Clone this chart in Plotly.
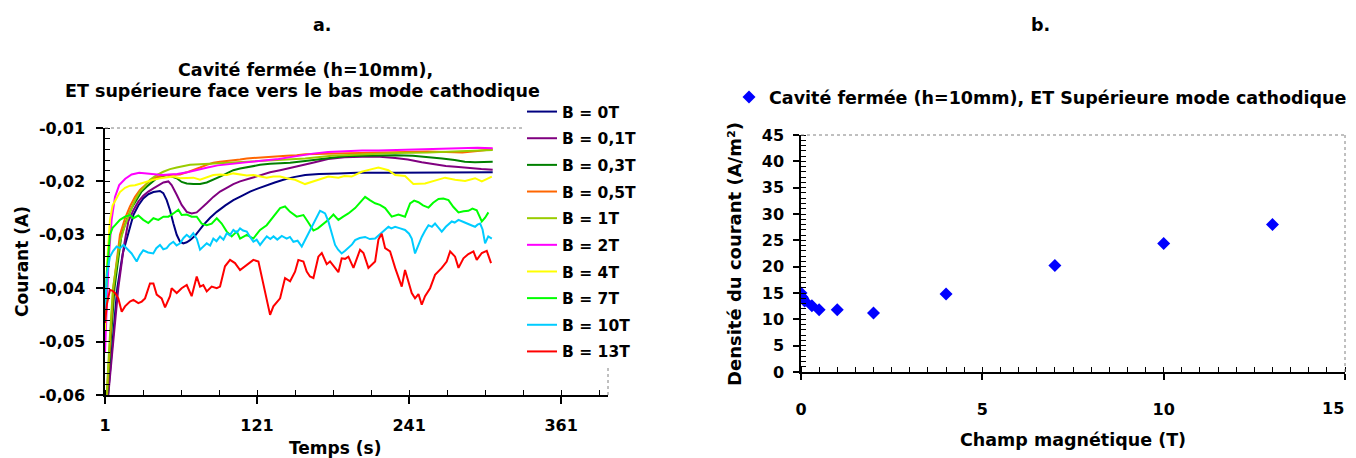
import plotly.graph_objects as go

# page is 1356 x 458; the browser's default 8 px body margin places the figure at (8, 8)
PAGE_W, PAGE_H, OFF = 1356, 458, 8
W, H = PAGE_W - OFF, PAGE_H - OFF
FONT = "DejaVu Sans, Liberation Sans, Arial, sans-serif"

# ---------------- Panel a : current vs time ----------------
names_a = ["B = 0T", "B = 0,1T", "B = 0,3T", "B = 0,5T", "B = 1T",
           "B = 2T", "B = 4T", "B = 7T", "B = 10T", "B = 13T"]
colors_a = ["#000080", "#800080", "#008000", "#FF6600", "#99CC00",
            "#FF00FF", "#FFFF00", "#00FF00", "#00CCFF", "#FF0000"]

t_0T = [1, 3.4, 7, 10.7, 15, 19, 23.4, 27.3, 31.2, 35.2, 39.2, 44.4, 47, 49.7, 52.3, 55, 57.6, 60.2, 62.8, 65.5,
        68.1, 72, 78.6, 84, 89.2, 96, 102.3, 109, 115.5, 122, 128.6, 135, 141.8, 150, 159, 170, 185, 200, 230, 260, 307]
i_0T = [-0.080, -0.060, -0.050, -0.040, -0.0335, -0.0300, -0.0263, -0.0245, -0.0232, -0.0224, -0.0220, -0.0218, -0.0222,
        -0.0235, -0.0254, -0.0279, -0.0300, -0.0313, -0.0316, -0.0314, -0.0310, -0.0302, -0.0282, -0.0268, -0.0257,
        -0.0245, -0.0235, -0.0227, -0.0219, -0.0213, -0.0207, -0.0202, -0.0197, -0.0192, -0.0188, -0.0186, -0.0185,
        -0.0184, -0.0184, -0.0184, -0.0183]

t_01T = [1, 3.6, 7.5, 11.5, 16, 19.4, 23.4, 27.3, 31.2, 35.2, 39.2, 43.1, 47.1, 51, 53.6, 57.6, 61.5, 65.5, 69.4, 73.4,
         77.3, 81.3, 86.5, 91.8, 97.1, 102.3, 107.6, 115.5, 123.4, 131.3, 139.2, 147.1, 155, 165, 177, 190, 204, 218,
         230, 240, 251, 262, 270, 280, 288, 298, 307]
i_01T = [-0.080, -0.060, -0.050, -0.040, -0.0320, -0.0275, -0.0254, -0.0238, -0.0227, -0.0219, -0.0213, -0.0207,
         -0.0202, -0.0200, -0.0207, -0.0225, -0.0244, -0.0257, -0.0260, -0.0258, -0.0250, -0.0241, -0.0229, -0.0219,
         -0.0212, -0.0205, -0.0200, -0.0194, -0.0188, -0.0183, -0.0179, -0.0175, -0.0171, -0.0165, -0.0158, -0.0155,
         -0.0154, -0.0154, -0.0156, -0.0159, -0.0164, -0.0168, -0.0171, -0.0173, -0.0175, -0.0177, -0.0178]

t_03T = [1, 2.8, 5.5, 8.5, 14, 18.1, 22, 26, 29.9, 33.9, 37.8, 41.8, 45.7, 49.7, 53.6, 57.6, 61.5, 65.5, 70.7, 76,
         81.3, 86.5, 91.8, 97.1, 102.3, 107.6, 115.5, 123.4, 131.3, 139.2, 147.1, 159, 177, 190, 204, 218, 230, 244,
         256, 267, 277, 285, 293, 300, 307]
i_03T = [-0.080, -0.060, -0.050, -0.040, -0.0300, -0.0272, -0.0250, -0.0233, -0.0219, -0.0210, -0.0202, -0.0194,
         -0.0191, -0.0188, -0.0191, -0.0194, -0.0201, -0.0204, -0.0205, -0.0205, -0.0202, -0.0197, -0.0191, -0.0185,
         -0.0179, -0.0176, -0.0172, -0.0169, -0.0167, -0.0166, -0.0165, -0.0162, -0.0156, -0.0153, -0.0152, -0.0151,
         -0.0151, -0.0152, -0.0154, -0.0157, -0.0160, -0.0163, -0.0164, -0.0164, -0.0163]

t_05T = [1, 2.5, 5, 7.6, 12.8, 16.8, 20.7, 24.7, 28.6, 32.6, 36.5, 40.5, 44.4, 49.7, 55, 60.2, 65.5, 70.7, 76, 81.3,
         86.5, 91.8, 97.1, 102.3, 107.6, 112.9, 118.1, 123.4, 128.6, 136.5, 144.4, 152.3, 159, 175, 195, 215, 235,
         256, 270, 283, 295, 307]
i_05T = [-0.080, -0.060, -0.050, -0.040, -0.0300, -0.0269, -0.0247, -0.0229, -0.0216, -0.0207, -0.0199, -0.0193,
         -0.0190, -0.0188, -0.0188, -0.0187, -0.0183, -0.0179, -0.0174, -0.0169, -0.0165, -0.0163, -0.0162, -0.0160,
         -0.0159, -0.0157, -0.0156, -0.0155, -0.0154, -0.0153, -0.0152, -0.0151, -0.0149, -0.0148, -0.0147, -0.0146,
         -0.0145, -0.0144, -0.0145, -0.0146, -0.0143, -0.0140]

t_1T = [1, 2.3, 4.6, 7.3, 12.8, 16.8, 20.7, 24.7, 28.6, 32.6, 36.5, 41.8, 47, 52.3, 57.6, 62.8, 68.1, 76, 83.9, 91.8,
        99.7, 107.6, 115.5, 123.4, 131.3, 139.2, 147.1, 159, 180, 204, 230, 256, 280, 307]
i_1T = [-0.080, -0.060, -0.050, -0.040, -0.0313, -0.0282, -0.0257, -0.0235, -0.0219, -0.0209, -0.0197, -0.0188,
        -0.0182, -0.0177, -0.0174, -0.0171, -0.0169, -0.0168, -0.0167, -0.0165, -0.0164, -0.0164, -0.0163, -0.0162,
        -0.0161, -0.0159, -0.0158, -0.0157, -0.0152, -0.0149, -0.0147, -0.0146, -0.0144, -0.0141]

t_2T = [1, 2.5, 3.8, 6.2, 8.9, 12.2, 17, 22, 28, 34, 40, 46, 52, 58, 66, 74, 82, 90, 98, 106, 114, 122, 130, 138,
        146, 154, 165, 177, 190, 204, 217, 230, 243, 256, 270, 283, 295, 307]
i_2T = [-0.052, -0.042, -0.035, -0.0272, -0.0229, -0.0207, -0.0195, -0.0187, -0.0184, -0.0185, -0.0187, -0.0188,
        -0.0187, -0.0186, -0.0183, -0.0178, -0.0174, -0.0170, -0.0168, -0.0166, -0.0165, -0.0163, -0.0161, -0.0158,
        -0.0155, -0.0152, -0.0148, -0.0145, -0.0143, -0.0142, -0.0142, -0.0141, -0.0140, -0.0139, -0.0138, -0.0137,
        -0.0137, -0.0138]

t_4T = [1, 2.5, 4.9, 7, 10, 12.8, 16.8, 20.7, 24.7, 28.6, 33.9, 39.2, 44.4, 49.7, 55, 60.2, 65.5, 70.7, 76, 81.3,
        86.5, 91.8, 97.1, 102.3, 107.6, 112.9, 118.1, 123.4, 128.6, 133.9, 139.2, 144.4, 151, 158.9, 166.8, 172,
        177.3, 185.2, 190, 195.7, 203.6, 210, 216.8, 224.7, 230, 237.8, 244.4, 253.6, 261.5, 269.4, 277.3, 285.2,
        293.1, 298.4, 306.3]
i_4T = [-0.0478, -0.036, -0.0272, -0.0245, -0.0232, -0.0220, -0.0212, -0.0208, -0.0207, -0.0204, -0.0200, -0.0197,
        -0.0194, -0.0193, -0.0191, -0.0194, -0.0194, -0.0193, -0.0197, -0.0193, -0.0188, -0.0187, -0.0188, -0.0185,
        -0.0187, -0.0189, -0.0188, -0.0191, -0.0193, -0.0191, -0.0191, -0.0194, -0.0197, -0.0205, -0.0199, -0.0195,
        -0.0191, -0.0193, -0.0190, -0.0191, -0.0182, -0.0178, -0.0174, -0.0179, -0.0188, -0.0190, -0.0205, -0.0204,
        -0.0199, -0.0193, -0.0197, -0.0199, -0.0194, -0.0200, -0.0191]

t_7T = [1, 2.5, 4.9, 7, 9, 12.8, 16.8, 20.7, 23.4, 27.3, 31.2, 35.2, 39.2, 43.1, 47.1, 51, 55, 58.9, 61.5, 65.5,
        69.4, 73.4, 77.3, 81.3, 85.2, 89.2, 93.1, 97.1, 101, 105, 107.6, 112.9, 118.1, 123.4, 128.6, 133.9, 139.2,
        143.1, 147.1, 152.3, 157.6, 161, 165.5, 169, 172.1, 177.3, 181.3, 185.2, 189, 193.1, 198.4, 202, 206.3, 210,
        214.2, 218, 222.1, 227.3, 232.6, 237.8, 241.8, 245, 248.4, 252, 256.3, 260, 264.2, 268, 272.1, 276, 280,
        284, 287.8, 291, 294.4, 298.4, 301, 303.6]
i_7T = [-0.0460, -0.0370, -0.0300, -0.0287, -0.0282, -0.0272, -0.0266, -0.0263, -0.0269, -0.0264, -0.0272, -0.0278,
        -0.0269, -0.0272, -0.0266, -0.0266, -0.0260, -0.0253, -0.0263, -0.0262, -0.0266, -0.0266, -0.0279, -0.0282,
        -0.0279, -0.0269, -0.0279, -0.0294, -0.0303, -0.0294, -0.0307, -0.0300, -0.0307, -0.0291, -0.0282, -0.0266,
        -0.0250, -0.0247, -0.0257, -0.0266, -0.0263, -0.0275, -0.0292, -0.0288, -0.0282, -0.0272, -0.0262, -0.0272,
        -0.0266, -0.0260, -0.0250, -0.0240, -0.0229, -0.0235, -0.0241, -0.0244, -0.0250, -0.0266, -0.0262, -0.0266,
        -0.0241, -0.0236, -0.0239, -0.0245, -0.0249, -0.0240, -0.0233, -0.0232, -0.0235, -0.0248, -0.0258, -0.0256,
        -0.0255, -0.0251, -0.0254, -0.0275, -0.0268, -0.0258]

t_10T = [1, 2.5, 4.9, 7.5, 10.2, 13, 15.5, 19, 22, 26,
         28.5, 31.2, 35, 39.1, 41.5, 44.4, 47, 49.7, 52, 54.9,
         57.5, 60.2, 63, 65.5, 68, 70.7, 73.5, 76, 78.5, 81.3,
         84, 86.5, 89, 91.8, 94.5, 97.1, 99.5, 102.3, 105, 107.6,
         110, 112.9, 115.5, 118.1, 120.7, 123.4, 126, 128.7, 131.5, 134,
         137, 140.5, 144.4, 147, 149.7, 153, 156.3, 160.2, 163, 166.8,
         169, 170.7, 172.5, 174.7, 177.3, 180, 182.6, 185, 187.8, 190.5,
         193.1, 196, 198.4, 202, 206.3, 210, 214.2, 217, 219.4, 222,
         224.7, 227, 230, 234, 237.8, 241, 243.1, 245.7, 248.4, 251,
         253.5, 256.3, 259, 261.5, 264, 266.8, 270, 274.7, 277, 280,
         284, 287.8, 291, 293.1, 295, 297.1, 299, 301, 303.5, 306.3]
i_10T = [-0.0440, -0.0375, -0.0341, -0.0330, -0.0322, -0.0325, -0.0319, -0.0328, -0.0335, -0.0350,
         -0.0338, -0.0329, -0.0333, -0.0335, -0.0325, -0.0319, -0.0327, -0.0325, -0.0318, -0.0313,
         -0.0320, -0.0316, -0.0306, -0.0300, -0.0305, -0.0297, -0.0308, -0.0328, -0.0322, -0.0316,
         -0.0320, -0.0307, -0.0312, -0.0303, -0.0309, -0.0297, -0.0301, -0.0291, -0.0296, -0.0288,
         -0.0292, -0.0294, -0.0304, -0.0313, -0.0309, -0.0319, -0.0311, -0.0303, -0.0308, -0.0303,
         -0.0309, -0.0302, -0.0307, -0.0304, -0.0313, -0.0311, -0.0322, -0.0303, -0.0290, -0.0272,
         -0.0262, -0.0255, -0.0257, -0.0260, -0.0275, -0.0296, -0.0319, -0.0328, -0.0335, -0.0330,
         -0.0325, -0.0318, -0.0310, -0.0306, -0.0304, -0.0308, -0.0307, -0.0301, -0.0297, -0.0291,
         -0.0285, -0.0288, -0.0285, -0.0288, -0.0291, -0.0298, -0.0307, -0.0335, -0.0318, -0.0304,
         -0.0293, -0.0282, -0.0285, -0.0279, -0.0286, -0.0294, -0.0285, -0.0275, -0.0277, -0.0272,
         -0.0276, -0.0279, -0.0283, -0.0285, -0.0281, -0.0279, -0.0290, -0.0316, -0.0303, -0.0307]

t_13T = [1, 2.5, 4.9, 7, 8.9, 11.5, 14.2, 16.8, 20.7, 23.4,
         27.3, 30, 32.6, 36.5, 39.2, 41.8, 45.7, 48.4, 52.3, 53.6,
         57.6, 61.5, 65.5, 69.4, 73.4, 76, 78.6, 81.3, 85.2, 89.2,
         91.8, 95.7, 99.7, 103.6, 107.6, 112.9, 118.1, 122.1, 126.1, 128.6,
         131.3, 133.9, 139.2, 143.1, 147.1, 151, 153.6, 157.6, 160.2, 162.8,
         165.5, 169.4, 172.1, 176, 178.6, 182.6, 185.2, 187.8, 190.5, 193.1,
         197.1, 202.3, 205, 208.9, 214.2, 216.8, 219.4, 222.1, 226, 230,
         232.6, 235.2, 237.8, 240.5, 243.1, 245.7, 248.4, 251, 253.6, 257.6,
         261.5, 266.8, 270.7, 273.4, 277.3, 280, 283.9, 287.8, 291.8, 294.4,
         298.4, 302.3, 305.7]
i_13T = [-0.0465, -0.0430, -0.0403, -0.0405, -0.0409, -0.0419, -0.0444, -0.0434, -0.0425, -0.0422,
         -0.0428, -0.0425, -0.0419, -0.0391, -0.0391, -0.0412, -0.0419, -0.0436, -0.0415, -0.0400,
         -0.0409, -0.0400, -0.0394, -0.0415, -0.0378, -0.0397, -0.0394, -0.0406, -0.0397, -0.0400,
         -0.0397, -0.0359, -0.0347, -0.0353, -0.0366, -0.0356, -0.0347, -0.0350, -0.0394, -0.0425,
         -0.0450, -0.0434, -0.0419, -0.0381, -0.0387, -0.0369, -0.0347, -0.0350, -0.0369, -0.0378,
         -0.0381, -0.0341, -0.0334, -0.0355, -0.0350, -0.0362, -0.0370, -0.0344, -0.0345, -0.0341,
         -0.0362, -0.0328, -0.0334, -0.0362, -0.0350, -0.0309, -0.0298, -0.0325, -0.0331, -0.0362,
         -0.0378, -0.0397, -0.0366, -0.0387, -0.0409, -0.0419, -0.0411, -0.0431, -0.0415, -0.0400,
         -0.0375, -0.0362, -0.0350, -0.0331, -0.0341, -0.0362, -0.0344, -0.0336, -0.0331, -0.0347,
         -0.0334, -0.0330, -0.0353]

times_a = [t_0T, t_01T, t_03T, t_05T, t_1T, t_2T, t_4T, t_7T, t_10T, t_13T]
currents_a = [i_0T, i_01T, i_03T, i_05T, i_1T, i_2T, i_4T, i_7T, i_10T, i_13T]

x_ticks_a = [1, 121, 241, 361]
y_ticks_a = [-0.06, -0.05, -0.04, -0.03, -0.02, -0.01]
y_ticktext_a = ["-0,06", "-0,05", "-0,04", "-0,03", "-0,02", "-0,01"]

# ---------------- Panel b : current density vs field ----------------
field_b = [0, 0.02, 0.05, 0.1, 0.3, 0.5, 1, 2, 4, 7, 10, 13]
density_b = [15.0, 14.3, 14.0, 13.5, 12.6, 11.8, 11.8, 11.2, 14.8, 20.2, 24.4, 28.0]
name_b = "Cavité fermée (h=10mm), ET Supérieure mode cathodique"
x_ticks_b = [0, 5, 10, 15]
# the last label ("15") sits at the page edge; it is written as a right-anchored note instead
x_ticktext_b = ["0", "5", "10", ""]
y_ticks_b = [0, 5, 10, 15, 20, 25, 30, 35, 40, 45]


def px(x):
    """page pixel x -> paper fraction"""
    return (x - OFF) / W


def py(y):
    """page pixel y -> paper fraction"""
    return 1 - (y - OFF) / H


def bold(size):
    return dict(family=FONT, size=size, color="black", weight="bold")


fig = go.Figure()
for name, col, tt, ii in zip(names_a, colors_a, times_a, currents_a):
    fig.add_trace(go.Scatter(x=tt, y=ii, mode="lines", name=name, legendgroup=name,
                             line=dict(color=col, width=2), xaxis="x", yaxis="y", legend="legend"))

fig.add_trace(go.Scatter(x=field_b, y=density_b, mode="markers", name=name_b,
                         marker=dict(symbol="diamond", size=10, color="#0000FF"),
                         xaxis="x2", yaxis="y2", legend="legend2"))

axis_common = dict(showline=True, linecolor="black", linewidth=1.5, showgrid=False, zeroline=False,
                   ticks="outside", tickcolor="black", tickwidth=1.5, tickfont=bold(16),
                   automargin=False, ticklabeloverflow="allow")
minor_common = dict(ticks="inside", ticklen=5, tickcolor="black", tickwidth=1.2, showgrid=False)

fig.update_layout(
    width=W, height=H, margin=dict(l=0, r=0, t=0, b=0, autoexpand=False),
    paper_bgcolor="white", plot_bgcolor="white",
    font=bold(16),
    xaxis=dict(domain=[px(105), px(608)], range=[1, 398], tickmode="array", tickvals=x_ticks_a,
               ticklen=7, ticklabelstandoff=8, anchor="y",
               minor=dict(tickmode="linear", tick0=1, dtick=30, **minor_common),
               **axis_common),
    yaxis=dict(domain=[py(395), py(128)], range=[-0.06, -0.01], tickmode="array", tickvals=y_ticks_a,
               ticktext=y_ticktext_a, ticklen=7, ticklabelstandoff=8, anchor="x",
               minor=dict(tickmode="linear", tick0=-0.06, dtick=0.002, **minor_common),
               **axis_common),
    xaxis2=dict(domain=[px(801), px(1345)], range=[0, 15], tickmode="array", tickvals=x_ticks_b,
                ticktext=x_ticktext_b, ticklen=6, ticklabelstandoff=16, anchor="y2",
                minor=dict(tickmode="linear", tick0=0, dtick=0.5, **minor_common),
                **axis_common),
    yaxis2=dict(domain=[py(372), py(135)], range=[0, 45], tickmode="array", tickvals=y_ticks_b,
                ticklen=6, ticklabelstandoff=6, anchor="x2",
                minor=dict(tickmode="linear", tick0=0, dtick=1, **minor_common),
                **axis_common),
    legend=dict(x=px(522), y=py(95), xanchor="left", yanchor="top", bgcolor="white",
                font=bold(15.5), tracegroupgap=3.5, itemwidth=30, traceorder="grouped"),
    legend2=dict(x=px(729), y=py(97), xanchor="left", yanchor="middle", orientation="h",
                 bgcolor="rgba(0,0,0,0)", font=bold(17.5), itemwidth=30),
    showlegend=True,
)

# dotted frame (top & right) of both plot areas
for xr, yr in (("x domain", "y domain"), ("x2 domain", "y2 domain")):
    fig.add_shape(type="line", xref=xr, yref=yr, x0=0, x1=1, y0=1, y1=1,
                  line=dict(color="#808080", width=1, dash="dot"))
    fig.add_shape(type="line", xref=xr, yref=yr, x0=1, x1=1, y0=0, y1=1,
                  line=dict(color="#808080", width=1, dash="dot"))

notes = [
    ("a.", 322, 25, 0, 17.5, "center"),
    ("b.", 1040, 25, 0, 17.5, "center"),
    ("Cavité fermée (h=10mm),", 305, 70, 0, 17.5, "center"),
    ("ET supérieure face vers le bas mode cathodique", 302, 91, 0, 17.5, "center"),
    ("Temps (s)", 335, 448, 0, 17, "center"),
    ("Courant (A)", 22, 262, -90, 17, "center"),
    ("Densité du courant (A/m²)", 735, 254, -90, 18, "center"),
    ("Champ magnétique (T)", 1073, 440, 0, 17.5, "center"),
    (str(x_ticks_b[-1]), 1346, 408, 0, 16, "right"),
]
for txt, x, y, ang, sz, anc in notes:
    fig.add_annotation(text=txt, x=px(x), y=py(y), xref="paper", yref="paper", showarrow=False,
                       xanchor=anc, yanchor="middle", textangle=ang, font=bold(sz))

fig.write_html("out.html")
